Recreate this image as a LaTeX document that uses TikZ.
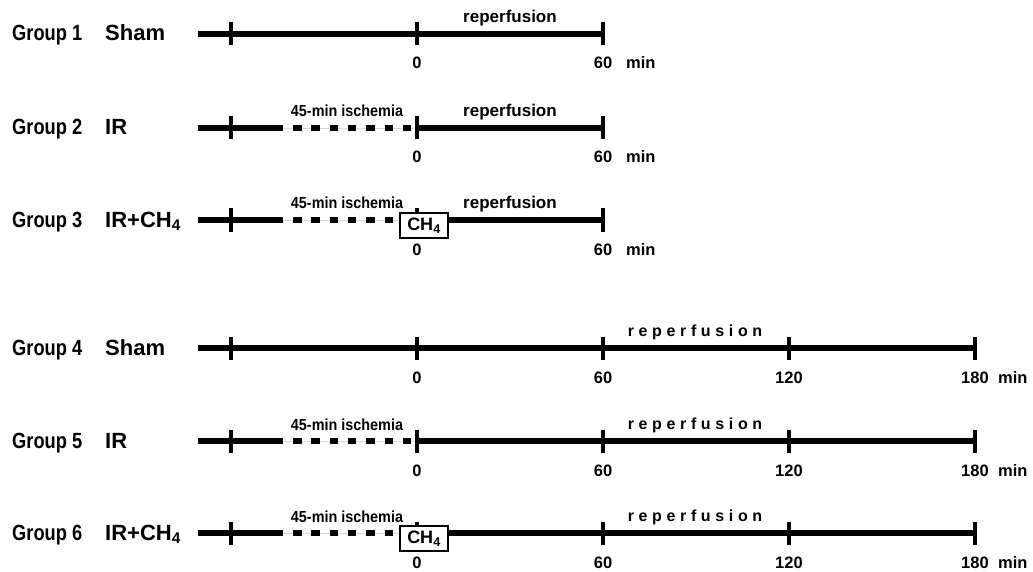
\documentclass[tikz,border=0pt]{standalone}
\usepackage{fontspec}
\setmainfont{Liberation Sans}
\newfontfamily\narrowf[FakeStretch=0.83]{Liberation Sans}
\newfontfamily\ischf[FakeStretch=0.9]{Liberation Sans}
\newfontfamily\spacedf[LetterSpace=29]{Liberation Sans}
\begin{document}
\begin{tikzpicture}[x=1pt,y=-1pt,
  axisline/.style={line width=5.5pt},
  tickline/.style={line width=3.5pt},
  dashline/.style={line width=5.5pt, dash pattern=on 8.5pt off 9.8pt},
  faint/.style={line width=0.8pt, black!15},
  grp/.style={anchor=base west, inner sep=0, font=\narrowf\bfseries\fontsize{22}{24}\selectfont},
  cnd/.style={anchor=base west, inner sep=0, font=\bfseries\fontsize{22}{24}\selectfont},
  lab/.style={anchor=base, inner sep=0, font=\bfseries\fontsize{16.5}{18}\selectfont},
  rep/.style={anchor=base, inner sep=0, font=\bfseries\fontsize{17}{19}\selectfont},
  srep/.style={anchor=base, inner sep=0, font=\spacedf\bfseries\fontsize{16}{18}\selectfont},
  isch/.style={anchor=base, inner sep=0, font=\ischf\bfseries\fontsize{16}{18}\selectfont},
  ch4box/.style={draw, line width=1.5pt, fill=white, minimum width=48pt, minimum height=25pt, inner sep=0, font=\bfseries\fontsize{18}{20}\selectfont}]
\useasboundingbox (0,0) rectangle (1033,572);
\foreach \i/\y/\cnd/\hasis/\lg/\hasch in {1/34/Sham/0/0/0, 2/128/IR/1/0/0, 3/220/{IR+CH\textsubscript{4}}/1/0/1, 4/348/Sham/0/1/0, 5/441/IR/1/1/0, 6/533/{IR+CH\textsubscript{4}}/1/1/1}{
  \node[grp] (g\i) at (12,\y+7) {Group \i};
  \node[cnd] (c\i) at (105,\y+7) {\cnd};
  \coordinate (s\i) at (198,\y);
  \coordinate (z\i) at (417,\y);
  \ifnum\lg=1 \coordinate (e\i) at (975,\y); \else \coordinate (e\i) at (603,\y); \fi
  \ifnum\hasis=1
    \coordinate (a\i) at (283,\y);
    \coordinate (d\i) at (293,\y);
    \coordinate (f\i) at (413,\y);
    \draw[axisline] (s\i) -- (a\i);
    \draw[faint] (a\i) -- (z\i);
    \draw[dashline] (d\i) -- (f\i);
    \draw[axisline] (z\i) -- (e\i);
    \node[isch] (i\i) at (347,\y-11) {45-min ischemia};
  \else
    \draw[axisline] (s\i) -- (e\i);
  \fi
  \foreach \t in {231,417,603}{\draw[tickline] (\t,\y-11.5) -- (\t,\y+11.5);}
  \node[lab] (l0\i) at (417,\y+35) {0};
  \node[lab] (l60\i) at (603,\y+35) {60};
  \ifnum\lg=1
    \foreach \t in {789,975}{\draw[tickline] (\t,\y-11.5) -- (\t,\y+11.5);}
    \node[lab] (l120\i) at (789,\y+35) {120};
    \node[lab] (l180\i) at (975,\y+35) {180};
    \node[lab, anchor=base west] (m\i) at (998,\y+35) {min};
    \node[srep] (r\i) at (695,\y-12) {reperfusion};
  \else
    \node[lab, anchor=base west] (m\i) at (626,\y+35) {min};
    \node[rep] (r\i) at (510,\y-11) {reperfusion};
  \fi
  \ifnum\hasch=1
    \node[ch4box] (ch\i) at (424,\y+5.5) {CH\textsubscript{4}};
  \fi
}
\end{tikzpicture}
\end{document}
